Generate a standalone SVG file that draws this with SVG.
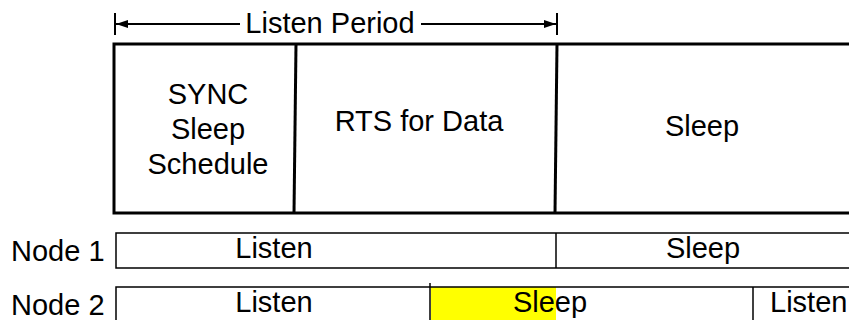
<svg xmlns="http://www.w3.org/2000/svg" width="849" height="320" viewBox="0 0 849 320">
<style>
  text { font-family: "Liberation Sans", Arial, sans-serif; font-size: 29px; fill: #000; }
  .c { text-anchor: middle; }
  .thick { stroke: #000; stroke-width: 3; fill: none; }
  .thin { stroke: #000; stroke-width: 1.5; fill: none; }
  .dim { stroke: #000; stroke-width: 2; fill: none; }
</style>
<defs>
  <marker id="ah" viewBox="0 0 12 8" refX="12" refY="4" markerWidth="12" markerHeight="8" markerUnits="userSpaceOnUse" orient="auto">
    <path d="M0,0 L12,4 L0,8 z" fill="#000"/>
  </marker>
</defs>
<rect width="849" height="320" fill="#fff"/>

<g id="connectors">
  <line class="dim" x1="115" y1="13" x2="115" y2="35"/>
  <line class="dim" x1="557" y1="13" x2="557" y2="35"/>
  <line class="dim" x1="240" y1="24" x2="116" y2="24" marker-end="url(#ah)"/>
  <line class="dim" x1="421" y1="24" x2="556" y2="24" marker-end="url(#ah)"/>
</g>

<g id="listen-period">
  <text class="c" x="330" y="33">Listen Period</text>
</g>

<g id="frame">
  <path class="thick" d="M849,44 L114,44 L114,213 L849,213"/>
</g>
<g id="sync">
  <line class="thick" x1="296" y1="44" x2="294" y2="213"/>
  <text class="c" x="208" y="104">SYNC</text>
  <text class="c" x="208" y="139">Sleep</text>
  <text class="c" x="208" y="174">Schedule</text>
</g>
<g id="rts">
  <line class="thick" x1="557" y1="44" x2="555" y2="213"/>
  <text class="c" x="419" y="131">RTS for Data</text>
</g>
<g id="sleep">
  <text class="c" x="702" y="136">Sleep</text>
</g>

<g id="node1">
  <text x="11" y="261">Node 1</text>
  <path class="thin" d="M849,233 L116,233 L116,268 L849,268"/>
  <line class="thin" x1="556" y1="233" x2="556" y2="268"/>
  <text class="c" x="274" y="258">Listen</text>
  <text class="c" x="703" y="258">Sleep</text>
</g>

<g id="node2">
  <text x="11" y="315">Node 2</text>
  <rect x="431" y="287" width="125" height="33" fill="#ffff00"/>
  <path class="thin" d="M849,287 L116,287 L116,320"/>
  <line class="thin" x1="430" y1="283" x2="430" y2="320"/>
  <line class="thin" x1="753" y1="287" x2="753" y2="320"/>
  <text class="c" x="274" y="312">Listen</text>
  <text class="c" x="550" y="312">Sleep</text>
  <text x="770" y="312">Listen</text>
</g>
</svg>
